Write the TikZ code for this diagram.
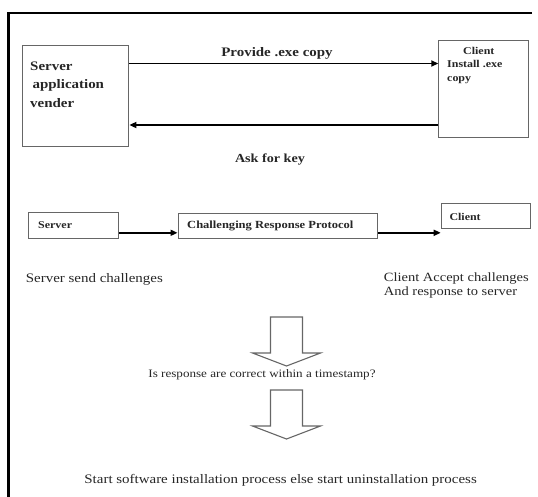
\documentclass[tikz,border=0pt]{standalone}
\usepackage{fontspec}
\setmainfont{Liberation Serif}[FakeStretch=1.15]
\usetikzlibrary{arrows.meta}
\definecolor{boxgray}{gray}{0.4}
\definecolor{inkgray}{gray}{0.15}
\begin{document}
\begin{tikzpicture}[x=1pt,y=-1pt]
            \tikzset{
                box/.style={draw=boxgray,line width=1.1pt,inner sep=0pt,anchor=north west},
                flow/.style={draw=black,line width=1.8pt,-{Triangle[length=7pt,width=6pt]}},
                bigbold/.style={font=\fontsize{13}{18.5}\selectfont\bfseries,text=inkgray,inner sep=0pt},
                smallbold/.style={font=\fontsize{10.4}{13.5}\selectfont\bfseries,text=inkgray,inner sep=0pt},
                plain/.style={font=\fontsize{13}{13.5}\selectfont,text=inkgray,inner sep=0pt},}
            \def\downpath{(-16,0) -- (16,0) -- (16,36) -- (34,36) -- (0,49) -- (-34,36) -- (-16,36) -- cycle}
            \useasboundingbox (0,0) rectangle (538,496);
            \draw [line width=2.8pt] (532,13) -- (8.6,13) -- (8.6,497);
            % top exchange
            \node [box,minimum width=106pt,minimum height=101pt] (srv) at (22.3,44.6) {};
            \node [box,minimum width=90pt,minimum height=97pt] (cli) at (438.3,40) {};
            \node [bigbold,align=left,anchor=north west] (srvtxt) at (30,61.5) {Server\\\hspace*{2.4pt}application\\vender};
            \node [smallbold,align=left,anchor=north west] (clitxt) at (447,47) {\hspace*{16pt}Client\\Install .exe\\copy};
            \coordinate (go) at (0,63.5);
            \coordinate (back) at (0,125);
            \draw [flow] (srv.east |- go) -- (cli.west |- go);
            \draw [flow] (cli.west |- back) -- (srv.east |- back);
            \node [bigbold] (give) at (277,53) {Provide .exe copy};
            \node [bigbold,font=\fontsize{12.3}{14}\selectfont\bfseries] (ask) at (270,159.6) {Ask for key};
            % protocol row
            \node [box,minimum width=90.6pt,minimum height=26pt] (srv2) at (27.7,211.7) {};
            \node [box,minimum width=199.5pt,minimum height=25.4pt] (crp) at (177.5,212.6) {};
            \node [box,minimum width=89.3pt,minimum height=25pt] (cli2) at (440.7,203.3) {};
            \node [smallbold,anchor=west] (srv2txt) at (38,225.5) {Server};
            \node [smallbold,font=\fontsize{10.9}{13}\selectfont\bfseries,anchor=west] (crptxt) at (187,226) {Challenging Response Protocol};
            \node [smallbold,anchor=west] (cli2txt) at (449.3,216.7) {Client};
            \coordinate (row) at (0,232.8);
            \draw [flow] (srv2.east |- row) -- (crp.west |- row);
            \draw [flow] (crp.east |- row) -- (cli2.west |- row);
            \node [plain,anchor=west] (sendtxt) at (25.7,279.5) {Server send challenges};
            \node [plain,align=left,anchor=north west,font=\fontsize{12.6}{13.5}\selectfont] (accepttxt) at (383.7,273) {Client Accept challenges\\And response to server};
            % result
            \begin{scope}[shift={(286.5,317)}]
                \draw [boxgray,line width=1.1pt,line join=miter] \downpath;
            \end{scope}
            \node [plain,font=\fontsize{11.4}{13}\selectfont] (check) at (262,375) {Is response are correct within a timestamp?};
            \begin{scope}[shift={(286.5,390)}]
                \draw [boxgray,line width=1.1pt,line join=miter] \downpath;
            \end{scope}
            \node [plain] (result) at (280.6,480) {Start software installation process else start uninstallation process};
        \end{tikzpicture}
\end{document}
